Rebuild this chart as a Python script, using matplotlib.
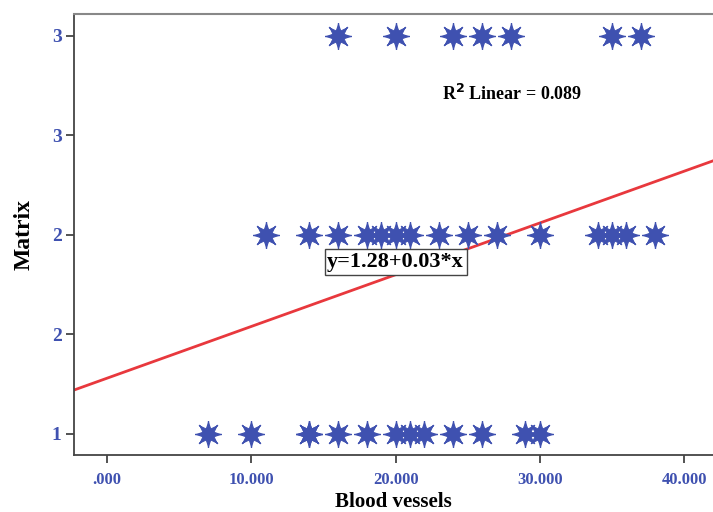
import matplotlib
matplotlib.use("Agg")
import matplotlib.pyplot as plt
import numpy as np

# ---- data ----
x_row1 = [7, 10, 14, 14, 16, 18, 20, 21, 22, 24, 26, 29, 30]
x_row2 = [11, 14, 16, 18, 19, 20, 21, 23, 25, 27, 30, 34, 35, 36, 38]
x_row3 = [16, 20, 24, 26, 28, 35, 37]
blood_vessels = x_row1 + x_row2 + x_row3
matrix = [1] * len(x_row1) + [2] * len(x_row2) + [3] * len(x_row3)

fit_intercept = 1.28
fit_slope = 0.026
r2_text = "R$^{\\mathbf{2}}$ Linear = 0.089"
eq_text = "y=1.28+0.03*x"

xticks = [0, 10, 20, 30, 40]
xticklabels = [".000", "10.000", "20.000", "30.000", "40.000"]
yticks = [1, 1.5, 2, 2.5, 3]
yticklabels = ["1", "2", "2", "3", "3"]

blue = "#3F51B0"
red = "#E8383D"
serif = ["Liberation Serif", "DejaVu Serif"]

fig = plt.figure(figsize=(7.13, 5.12), dpi=100)
ax = fig.add_axes([0.1038, 0.1113, 0.8962, 0.8614])

xlim = (-2.29, 42.0)
ylim = (0.894, 3.11)
ax.set_xlim(*xlim)
ax.set_ylim(*ylim)

xs = np.array(xlim)
ax.plot(xs, fit_intercept + fit_slope * xs, color=red, lw=2, zorder=2)

ax.plot(blood_vessels, matrix, linestyle="none", marker=(8, 1, 0),
        markersize=17, color=blue, markeredgecolor=blue, markeredgewidth=0.8,
        zorder=3)
ax.plot(blood_vessels, matrix, linestyle="none", marker=(8, 2, 0),
        markersize=19, color=blue, markeredgewidth=0.9, zorder=3)

ax.set_xticks(xticks)
ax.set_xticklabels(xticklabels)
ax.set_yticks(yticks)
ax.set_yticklabels(yticklabels)
for lab in ax.get_xticklabels():
    lab.set_family(serif)
    lab.set_weight("bold")
    lab.set_color(blue)
    lab.set_fontsize(12)
for lab in ax.get_yticklabels():
    lab.set_family(serif)
    lab.set_weight("bold")
    lab.set_color(blue)
    lab.set_fontsize(14)

ax.tick_params(axis="both", direction="out", length=6, width=1.3, color="#444444")
ax.tick_params(axis="x", pad=6)
ax.tick_params(axis="y", pad=3)

ax.set_xlabel("Blood vessels", family=serif, weight="bold", fontsize=15, labelpad=3)
ax.set_ylabel("Matrix", family=serif, weight="bold", fontsize=17, labelpad=12)

for side in ["left", "bottom"]:
    ax.spines[side].set_color("#444444")
    ax.spines[side].set_linewidth(1.3)
ax.spines["top"].set_color("#888888")
ax.spines["top"].set_linewidth(1.5)
ax.spines["right"].set_visible(False)

ax.text(28.1, 2.71, r2_text, family=serif, weight="bold", fontsize=13,
        ha="center", va="center", color="black")
ax.text(20.0, 1.864, eq_text, family=serif, weight="bold", fontsize=16,
        ha="center", va="center", color="black", zorder=4,
        bbox=dict(boxstyle="square,pad=0.12", facecolor="white", edgecolor="#444444", linewidth=1))

fig.savefig("out.png", dpi=100)
